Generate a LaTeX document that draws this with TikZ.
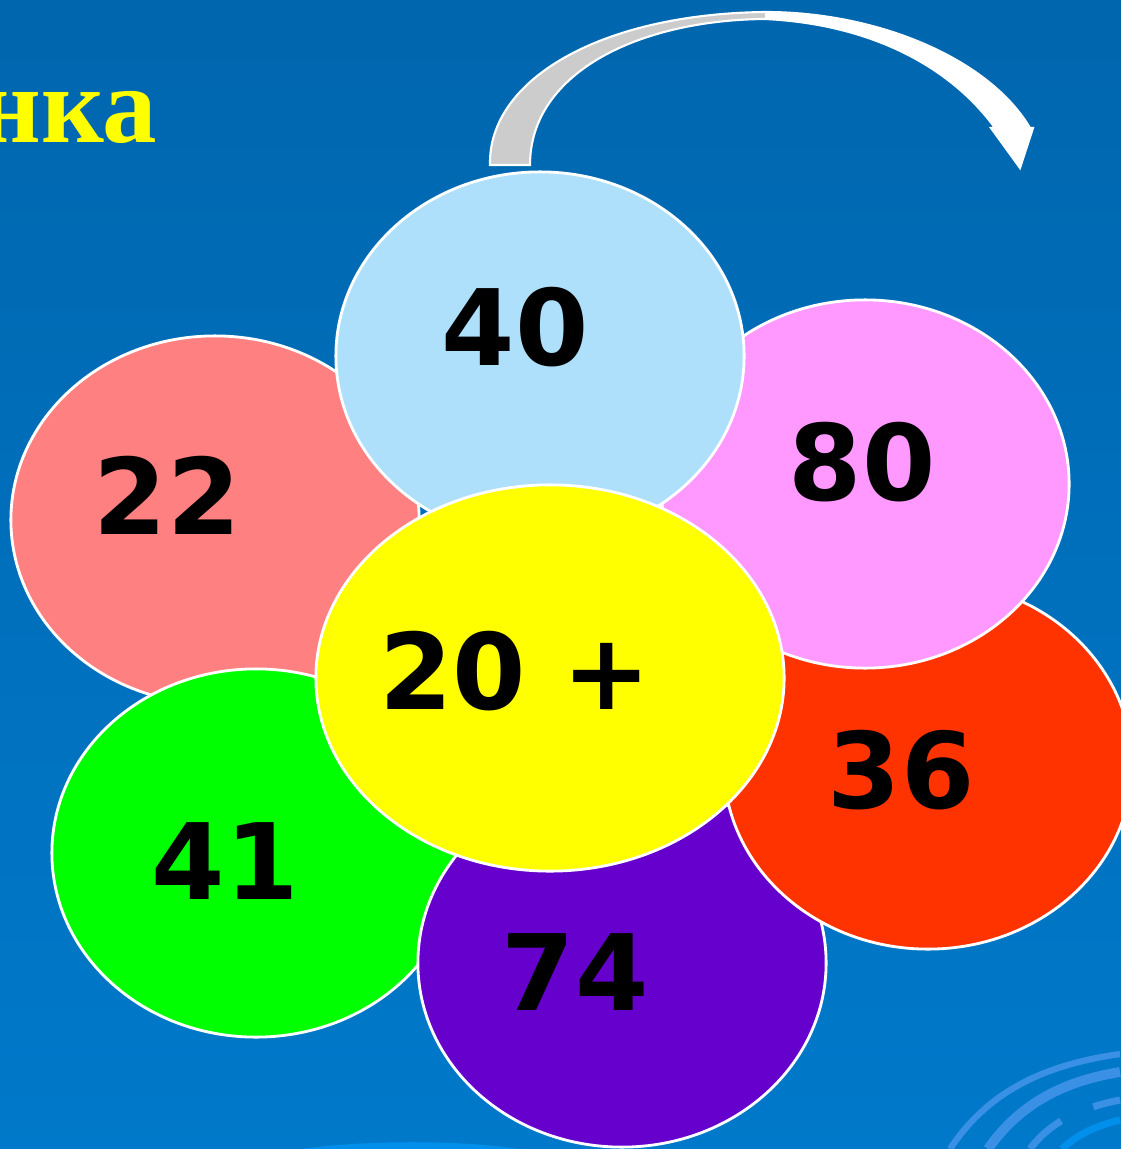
\documentclass[tikz,border=0pt]{standalone}
\usepackage{fontspec}
\setmainfont{Liberation Serif}
\newfontfamily\numfont{DejaVu Sans}
\usetikzlibrary{shapes.geometric}
\definecolor{bgtop}{HTML}{0066AE}
\definecolor{bgbot}{HTML}{0079CA}
\definecolor{deco}{HTML}{3A90E4}
\definecolor{decolight}{HTML}{0090EC}
\definecolor{pinkA}{HTML}{FF8080}
\definecolor{skyA}{HTML}{AEE0FC}
\definecolor{lilacA}{HTML}{FF99FF}
\definecolor{redA}{HTML}{FF3300}
\definecolor{greenA}{HTML}{00FF00}
\definecolor{violetA}{HTML}{6600CC}
\definecolor{yellowA}{HTML}{FFFF00}
\definecolor{arrowgrey}{HTML}{CCCCCC}
\def\bendpath{(490,165) .. controls (488,80) and (600,14) .. (765,12)
  .. controls (880,12) and (990,60) .. (1030,128) -- (1033,128) -- (1020,168)
  -- (991,128) -- (995,128) .. controls (950,66) and (870,24) .. (765,19)
  .. controls (640,20) and (530,72) .. (530,165) -- cycle}

\begin{document}
\begin{tikzpicture}[x=0.01cm, y=-0.01cm,
  petal/.style={ellipse, draw=white, line width=0.8pt, inner sep=0pt},
  num/.style={font=\numfont\bfseries\fontsize{30}{34}\selectfont, inner sep=0pt}]
  \useasboundingbox (0,0) rectangle (1120,1149);
  % background
  \shade[top color=bgtop, bottom color=bgbot] (-2,-2) rectangle (1122,1151);
  \draw[deco, line width=1.8pt] (950,1149) .. controls (990,1088) and (1050,1064) .. (1120,1054);
  \draw[deco, line width=2.8pt] (988,1149) .. controls (1022,1100) and (1070,1080) .. (1120,1072);
  \draw[deco, line width=2pt, dash pattern=on 12pt off 10pt] (1030,1149) .. controls (1050,1122) and (1080,1108) .. (1120,1100);
  \draw[decolight, line width=2pt] (1062,1149) .. controls (1080,1132) and (1100,1125) .. (1120,1120);
  \fill[decolight] (300,1149) .. controls (360,1141) and (450,1139) .. (520,1149) -- cycle;
  % title
  \node[anchor=base east, inner sep=0pt, text=yellowA,
    font=\bfseries\fontsize{31}{36}\selectfont] (title) at (158,143) {нка};
  % arrow
  \fill[arrowgrey] \bendpath;
  \begin{scope}
    \clip (765,0) rectangle (1120,200);
    \fill[white] \bendpath;
  \end{scope}
  \draw[white, line width=0.6pt] \bendpath;
  % petals
  \foreach \n/\x/\y/\c in {p22/215/520/pinkA, p41/256/853/greenA, p74/622/963/violetA,
      p36/928/765/redA, p80/865/484/lilacA, p40/540/356/skyA}
    \node[petal, fill=\c, minimum width=4.08cm, minimum height=3.68cm] (\n) at (\x,\y) {};
  \node[petal, fill=yellowA, minimum width=4.68cm, minimum height=3.86cm] (core) at (550,678) {};
  % numbers
  \foreach \t/\x/\y in {40/515/327, 22/167/495, 80/862/462, 36/901/770, 41/225/861, 74/575/972}
    \node[num] (t\t) at (\x,\y) {\t};
  \node[num] (tcore) at (515,671) {20 +};
\end{tikzpicture}
\end{document}
